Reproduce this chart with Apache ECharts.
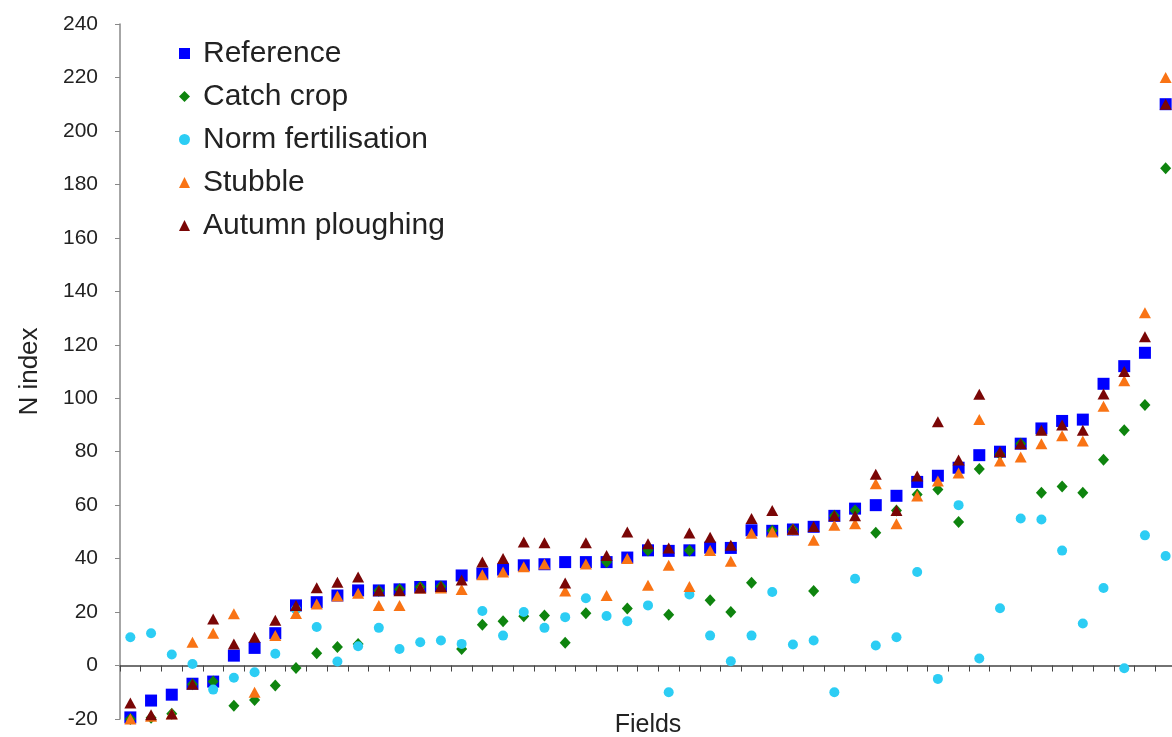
<!DOCTYPE html>
<html>
<head>
<meta charset="utf-8">
<title>N index by field</title>
<script src="https://cdn.jsdelivr.net/npm/echarts@6/dist/echarts.min.js"></script>
<style>
  html, body { margin: 0; padding: 0; background: #fff; }
  #chart { width: 1172px; height: 737px; }
</style>
</head>
<body>
<div id="chart"></div>
<script>
// fields, sorted by the reference value
let fields = [];
for (let i = 1; i <= 51; i++) fields.push("F" + i);

let yTicks = [-20, 0, 20, 40, 60, 80, 100, 120, 140, 160, 180, 200, 220, 240];

let reference = [-19.4, -13.1, -10.9, -6.8, -6, 3.7, 6.6, 12.1, 22.5, 23.7, 26.2, 28.1, 28.1, 28.5, 29.4, 29.6, 33.7, 34.4, 35.9, 37.5,
  37.9, 38.7, 38.7, 38.7, 40.4, 43.1, 42.9, 43.1, 44.1, 44, 50.6, 50.4, 50.9, 51.9, 56, 58.7, 60, 63.5, 68.7, 71,
  74, 78.7, 80, 83, 88.7, 91.5, 92, 105.4, 112, 117, 210];
let catchCrop = [-20, -19.5, -18, -7, -6, -15, -12.9, -7.5, -0.9, 4.6, 6.9, 8.1, 28, 28.5, 29.4, 29.6, 6.2, 15.3, 16.6, 18.4,
  18.7, 8.5, 19.6, 38.7, 21.3, 43, 19, 43, 24.4, 20, 31, 50.4, 50.9, 27.9, 56, 58, 49.7, 58, 64, 65.9,
  53.7, 73.5, 79, 83, 64.6, 67, 64.6, 77, 88, 97.5, 186];
let normFert = [10.6, 12.1, 4.1, 0.6, -9, -4.6, -2.5, 4.4, 21, 14.4, 1.5, 7.2, 14.1, 6.2, 8.7, 9.4, 8.1, 20.4, 11.2, 20,
  14.1, 18.1, 25.2, 18.5, 16.6, 22.5, -10, 26.6, 11.2, 1.6, 11.2, 27.5, 7.9, 9.4, -10, 32.5, 7.5, 10.6, 35, -5,
  60, 2.6, 21.4, 55, 54.6, 43, 15.7, 29, -1, 48.7, 41];
let stubble = [-20, -19, -18, 8.7, 12.1, 19.4, -10, 11.2, 19.5, 23, 26, 27, 22.5, 22.5, 29, 29, 28.4, 34, 35, 37,
  38, 27.9, 38, 26.2, 40, 30, 37.5, 29.6, 43, 39, 49.5, 50, 51, 46.9, 52.5, 53, 68, 53, 63.4, 69,
  72, 92, 76.5, 78, 83, 86, 84, 97, 106.5, 132, 220];
let autumnPlough = [-14, -18.4, -18.1, -7, 17.4, 8.1, 10.6, 16.9, 22.5, 29.1, 31.2, 33.1, 28, 28, 29, 29.6, 32, 38.7, 40, 46.2,
  45.9, 30.9, 45.9, 41.2, 50, 45.6, 44, 49.6, 48, 45, 55, 58, 51, 52, 56, 56, 71.6, 58, 70.9, 91.2,
  76.9, 101.5, 80, 83, 88, 90, 88, 101.6, 110, 123, 210];

let myChart = echarts.init(document.getElementById("chart"));
let font = "'Liberation Sans', Arial, sans-serif";

let option = {
  backgroundColor: "#fff",
  animation: false,
  grid: {
    left: 120,
    right: -4,
    top: 24,
    bottom: 18,
    containLabel: false,
    outerBoundsMode: "none"
  },
  legend: {
    orient: "vertical",
    left: 174,
    top: 33,
    itemWidth: 11,
    itemHeight: 11,
    itemGap: 12,
    textStyle: {
      fontFamily: font,
      fontSize: 30,
      color: "#222",
      lineHeight: 31,
      padding: [0, 0, 0, 8]
    },
    data: ["Reference", "Catch crop", "Norm fertilisation", "Stubble", "Autumn ploughing"]
  },
  xAxis: {
    type: "category",
    data: fields,
    name: "Fields",
    nameLocation: "middle",
    nameGap: -6,
    nameTextStyle: {
      fontFamily: font,
      fontSize: 25,
      color: "#222"
    },
    axisLine: { onZero: true, lineStyle: { color: "#444", width: 1.5 } },
    axisTick: { show: true, interval: 0, length: 6, lineStyle: { color: "#444" } },
    axisLabel: { show: false },
    splitLine: { show: false }
  },
  yAxis: {
    type: "value",
    min: yTicks[0],
    max: yTicks[yTicks.length - 1],
    interval: 20,
    name: "N index",
    nameLocation: "middle",
    nameRotate: 90,
    nameGap: 77,
    nameTextStyle: {
      fontFamily: font,
      fontSize: 26,
      color: "#222"
    },
    axisLine: { show: true, lineStyle: { color: "#888", width: 1.5 } },
    axisTick: { show: true, length: 5, lineStyle: { color: "#888" } },
    axisLabel: {
      fontFamily: font,
      fontSize: 21,
      color: "#222",
      margin: 22
    },
    splitLine: { show: false }
  },
  series: [
    {
      name: "Reference",
      type: "scatter",
      symbol: "rect",
      symbolSize: 12,
      itemStyle: { color: "#0000ff", opacity: 1 },
      data: reference
    },
    {
      name: "Catch crop",
      type: "scatter",
      symbol: "diamond",
      symbolSize: [11, 12],
      itemStyle: { color: "#0e840e", opacity: 1 },
      data: catchCrop
    },
    {
      name: "Norm fertilisation",
      type: "scatter",
      symbol: "circle",
      symbolSize: 10,
      itemStyle: { color: "#2ccdf4", opacity: 1 },
      data: normFert
    },
    {
      name: "Stubble",
      type: "scatter",
      symbol: "triangle",
      symbolSize: [12, 11],
      itemStyle: { color: "#f97314", opacity: 1 },
      data: stubble
    },
    {
      name: "Autumn ploughing",
      type: "scatter",
      symbol: "triangle",
      symbolSize: [12, 11],
      itemStyle: { color: "#7a0606", opacity: 1 },
      data: autumnPlough
    }
  ]
};

myChart.setOption(option);
window.addEventListener("resize", () => {
  myChart.resize();
});
</script>
</body>
</html>
